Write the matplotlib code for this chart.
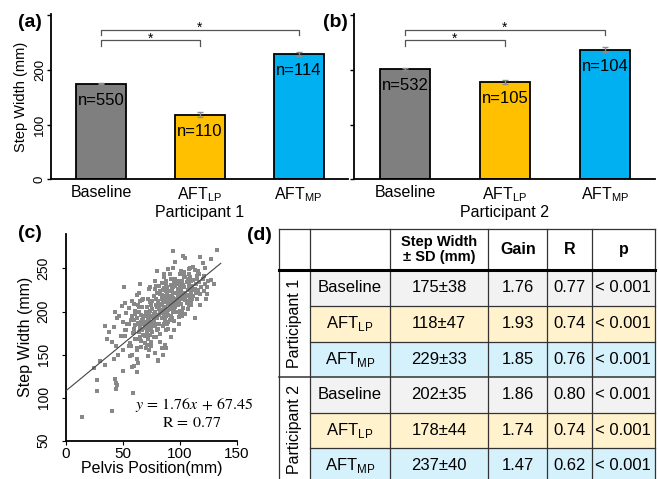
import numpy as np
import matplotlib.pyplot as plt
from matplotlib.patches import Rectangle

plt.rcParams['font.family'] = ['Liberation Sans', 'DejaVu Sans']

# bar chart data (mean step width, SD, number of steps)
conditions = ['Baseline', r'AFT$_{\mathregular{LP}}$', r'AFT$_{\mathregular{MP}}$']
bar_colors = ['#7F7F7F', '#FFC000', '#00B0F0']
p1_mean = [175, 118, 229]
p1_sd = [38, 47, 33]
p1_n = [550, 110, 114]
p2_mean = [202, 178, 237]
p2_sd = [35, 44, 40]
p2_n = [532, 105, 104]

# scatter data (pelvis position vs step width)
pelvis = [94, 133, 103, 105, 118, 127, 120, 96, 109, 113, 122, 117, 101, 91, 80, 86, 127, 124, 112, 130,
          88, 96, 104, 110, 115, 121, 108, 99, 93, 84, 78, 74, 65, 51, 73,
          62, 52, 49, 58, 60, 43, 45, 47, 34, 42, 38, 36, 40, 44, 48, 52, 55, 57, 50, 53, 55, 46, 42, 50,
          55, 58, 62, 30, 34, 25, 27, 27, 44, 43, 44, 45, 59, 50, 62, 60, 63, 58, 14, 40,
          60, 61, 62, 63, 64, 65, 66, 66, 67, 68, 69, 61, 63, 65, 67, 69, 62, 64, 68, 70, 60, 66, 68, 64,
          69, 61, 65, 67, 63, 70,
          71, 71, 72, 72, 73, 73, 74, 74, 75, 75, 76, 76, 77, 77, 78, 78, 79, 79, 80, 80, 71, 72, 73, 74,
          75, 76, 77, 78, 79, 80, 71, 73, 75, 77, 79, 72, 74, 76, 78, 80,
          81, 81, 82, 82, 83, 83, 84, 84, 85, 85, 86, 86, 87, 87, 88, 88, 89, 89, 90, 90, 81, 87, 82, 84,
          85, 86, 87, 88, 89, 81, 83, 85, 86, 88, 89, 82, 84, 86, 88, 90, 83, 87, 90, 85, 89,
          91, 91, 92, 92, 93, 93, 94, 94, 95, 95, 96, 96, 97, 97, 98, 98, 99, 99, 100, 100, 91, 92, 93, 94,
          95, 96, 97, 98, 99, 100, 92, 94, 96, 98, 95, 91, 93, 97, 99, 100,
          101, 101, 102, 102, 103, 103, 104, 104, 105, 105, 106, 106, 107, 107, 108, 108, 109, 109, 110, 110,
          101, 103, 105, 107, 109, 102, 104, 106, 108, 113,
          111, 112, 112, 113, 114, 115, 115, 116, 117, 118, 119, 120, 121, 122, 123, 124, 125, 118, 116, 114,
          81, 85, 88, 78, 75, 83, 92, 95, 70, 72, 90, 84,
          82, 84, 86, 88, 90, 92, 94, 96, 98, 100, 102, 104, 106, 108, 110,
          83, 85, 87, 89, 91, 93, 95, 97, 99, 101, 103, 105, 107, 109, 111,
          52, 54, 56, 58, 60, 62, 64, 66, 68, 70, 72, 74, 53, 57, 61, 65, 69, 73,
          56, 59, 63, 67, 71, 75, 79, 100, 104, 108, 112, 116, 86, 90, 94, 98, 102]
step_w = [270, 272, 265, 262, 263, 261, 256, 258, 251, 248, 250, 244, 247, 243, 247, 240, 237, 220, 225, 232,
          236, 238, 240, 236, 238, 241, 244, 233, 231, 233, 236, 229, 232, 229, 226,
          219, 210, 206, 212, 209, 200, 193, 195, 183, 182, 176, 168, 165, 160, 172, 178, 185, 190, 188, 198,
          204, 150, 145, 155, 160, 150, 145, 143, 138, 134, 121, 108, 110, 122, 117, 115, 105, 131, 130, 137,
          140, 135, 78, 85,
          176, 184, 192, 168, 199, 181, 159, 188, 205, 173, 195, 201, 185, 212, 178, 163, 155, 176, 186, 200,
          190, 196, 214, 222, 181, 168, 170, 190, 207, 172,
          183, 205, 190, 168, 198, 178, 211, 186, 160, 195, 203, 176, 190, 218, 183, 199, 170, 208, 193, 222,
          195, 215, 155, 201, 185, 212, 170, 192, 186, 205, 176, 189, 207, 197, 214, 180, 194, 188, 226, 178,
          196, 212, 186, 203, 220, 174, 193, 208, 216, 183, 199, 227, 190, 205, 213, 179, 197, 221, 209, 188,
          143, 161, 230, 200, 192, 211, 218, 195, 203, 180, 209, 202, 185, 224, 213, 196, 215, 204, 201, 196,
          198, 196, 218, 225, 186,
          203, 224, 212, 195, 218, 207, 199, 228, 213, 189, 221, 205, 215, 232, 200, 219, 210, 226, 214, 196,
          212, 231, 192, 216, 204, 230, 208, 225, 186, 222, 205, 210, 214, 211, 222, 190, 226, 199, 219, 230,
          209, 226, 217, 236, 204, 221, 214, 229, 197, 222, 212, 234, 218, 225, 207, 230, 216, 240, 222, 212,
          218, 231, 213, 238, 226, 200, 222, 219, 218, 192,
          230, 218, 237, 226, 232, 214, 241, 225, 234, 220, 229, 238, 224, 232, 215, 228, 236, 208, 245, 222,
          144, 150, 158, 152, 165, 165, 170, 178, 158, 148, 180, 158,
          207, 219, 196, 232, 202, 238, 221, 209, 235, 201, 228, 244, 210, 233, 207,
          224, 213, 198, 229, 216, 203, 236, 221, 194, 231, 218, 240, 203, 229, 215,
          171, 186, 163, 195, 180, 158, 205, 166, 192, 188, 214, 173, 179, 160, 197, 183, 172, 199,
          148, 175, 187, 213, 161, 181, 230, 243, 246, 249, 252, 247, 244, 249, 251, 208, 195]
fit_x = [0, 136]
fit_y = [108, 256]

# table (d)
row_labels = ['Baseline', r'AFT$_{\mathregular{LP}}$', r'AFT$_{\mathregular{MP}}$'] * 2
step_sd = ['175\u00b138', '118\u00b147', '229\u00b133', '202\u00b135', '178\u00b144', '237\u00b140']
gains = ['1.76', '1.93', '1.85', '1.86', '1.74', '1.47']
r_vals = ['0.77', '0.74', '0.76', '0.80', '0.74', '0.62']
p_vals = ['< 0.001'] * 6
row_fill = ['#F2F2F2', '#FFF2CC', '#D4F1FC'] * 2

W, H = 659, 479
fig = plt.figure(figsize=(W / 100, H / 100), dpi=100)


def fbox(x0, y0, x1, y1):
    # pixel box -> figure fraction
    return [x0 / W, 1 - y1 / H, (x1 - x0) / W, (y1 - y0) / H]


def bar_panel(ax, means, sds, ns, xlabel, ylab):
    pos = np.arange(len(means))
    se = np.array(sds) / np.sqrt(ns)
    ax.bar(pos, means, width=0.505, color=bar_colors, edgecolor='black', linewidth=1.3, zorder=2)
    ax.errorbar(pos, means, yerr=se, fmt='none', ecolor='#8c8c8c', elinewidth=1,
                capsize=2, capthick=1, zorder=3)
    for x, m, n in zip(pos, means, ns):
        ax.annotate(f'n={n}', (x, m), xytext=(0, -12), textcoords='offset points',
                    ha='center', va='center', fontsize=12)
    # significance brackets
    for x1, y, ys, drop in [(1, 255, 249, 244), (2, 273, 269, 264)]:
        ax.plot([pos[0], pos[0], x1, x1], [drop, y, y, drop], color='#555555', lw=0.9, clip_on=False)
        ax.text((pos[0] + x1) / 2, ys, '*', ha='center', va='baseline', fontsize=10)
    ax.set_xlim(-0.51, 2.5)
    ax.set_ylim(0, 302)
    ax.set_xticks(pos)
    ax.set_xticklabels(conditions, fontsize=11.5)
    ax.tick_params(axis='x', length=0, pad=4)
    ax.set_yticks([0, 100, 200, 300])
    if ylab:
        ax.set_yticklabels(['0', '100', '200', ''], rotation=90, va='center', fontsize=9.5)
        ax.set_ylabel('Step Width (mm)', fontsize=10.5, labelpad=4)
    else:
        ax.set_yticklabels([])
    ax.tick_params(axis='y', length=3, width=1, pad=0.5)
    ax.set_xlabel(xlabel, fontsize=11.5, labelpad=1)
    for s in ['top', 'right']:
        ax.spines[s].set_visible(False)
    for s in ['left', 'bottom']:
        ax.spines[s].set_linewidth(1.3)


ax_a = fig.add_axes(fbox(50.7, 14, 348, 179.3))
bar_panel(ax_a, p1_mean, p1_sd, p1_n, 'Participant 1', True)
ax_b = fig.add_axes(fbox(354, 14, 655, 179.3))
bar_panel(ax_b, p2_mean, p2_sd, p2_n, 'Participant 2', False)

# (c) scatter
ax_c = fig.add_axes(fbox(66, 234, 236.7, 440.7))
ax_c.scatter(pelvis, step_w, s=5, marker='s', color='#888888', linewidths=0, zorder=2)
ax_c.plot(fit_x, fit_y, color='#444444', lw=0.8, zorder=3)
ax_c.set_xlim(0, 150)
ax_c.set_ylim(50, 290)
ax_c.set_xticks([0, 50, 100, 150])
ax_c.set_yticks([50, 100, 150, 200, 250])
ax_c.set_yticklabels(['50', '100', '150', '200', '250'], rotation=90, va='center', fontsize=10)
ax_c.tick_params(axis='x', labelsize=11, length=3, pad=1.5)
ax_c.tick_params(axis='y', length=3, pad=8)
ax_c.set_xlabel('Pelvis Position(mm)', fontsize=11.5, labelpad=0)
ax_c.set_ylabel('Step Width (mm)', fontsize=11.5, labelpad=3)
for s in ['top', 'right']:
    ax_c.spines[s].set_visible(False)
for s in ['left', 'bottom']:
    ax_c.spines[s].set_linewidth(1.3)
ax_c.text(112.5, 91.5, r'$y\,=\,1.76x\,+\,67.45$', ha='center', va='center', fontsize=11.5,
          math_fontfamily='stix')
ax_c.text(110.5, 71, r'$\mathrm{R}\,=\,0.77$', ha='center', va='center', fontsize=11.5,
          math_fontfamily='stix')

# (d) table
col_w = [31, 80, 98.3, 59, 44.4, 63.3]
row_h = [41, 36, 35.7, 35, 36, 35, 35.3]
xs = np.concatenate([[0], np.cumsum(col_w)])
ys = np.concatenate([[0], np.cumsum(row_h)])
ax_d = fig.add_axes(fbox(279, 229, 655, 483))
ax_d.set_xlim(0, xs[-1])
ax_d.set_ylim(ys[-1], 0)
ax_d.axis('off')

headers = ['Step Width\n\u00b1 SD (mm)', 'Gain', 'R', 'p']
for j, h in enumerate(headers):
    cx = (xs[j + 2] + xs[j + 3]) / 2
    ax_d.text(cx, ys[1] / 2, h, ha='center', va='center', fontweight='bold',
              fontsize=10.5 if j == 0 else 11.5, linespacing=1.1)

for i in range(6):
    y0, y1 = ys[i + 1], ys[i + 2]
    ax_d.add_patch(Rectangle((xs[1], y0), xs[-1] - xs[1], y1 - y0, facecolor=row_fill[i],
                             edgecolor='none'))
    cy = (y0 + y1) / 2
    vals = [row_labels[i], step_sd[i], gains[i], r_vals[i], p_vals[i]]
    for j, v in enumerate(vals):
        ax_d.text((xs[j + 1] + xs[j + 2]) / 2, cy, v, ha='center', va='center', fontsize=12)

for g, name in enumerate(['Participant 1', 'Participant 2']):
    ax_d.text(xs[1] / 2, (ys[1 + 3 * g] + ys[4 + 3 * g]) / 2, name, rotation=90,
              ha='center', va='center', fontsize=11.5)

lc = '#333333'
for x in xs:
    ax_d.plot([x, x], [ys[0], ys[-1]], color=lc, lw=0.9, clip_on=False)
for k, y in enumerate(ys):
    if k in (2, 3, 5, 6):
        ax_d.plot([xs[1], xs[-1]], [y, y], color=lc, lw=0.9, clip_on=False)
    elif k == 1:
        ax_d.plot([xs[0], xs[-1]], [y, y], color='black', lw=2.2, clip_on=False)
    else:
        ax_d.plot([xs[0], xs[-1]], [y, y], color=lc, lw=1.1 if k == 4 else 0.9, clip_on=False)

# panel letters
for lab, px, py in [('(a)', 29.7, 22.5), ('(b)', 335, 22.5), ('(c)', 30, 233), ('(d)', 259, 235)]:
    fig.text(px / W, 1 - py / H, lab, ha='center', va='center', fontweight='bold', fontsize=14)

fig.savefig('out.png', dpi=100)
